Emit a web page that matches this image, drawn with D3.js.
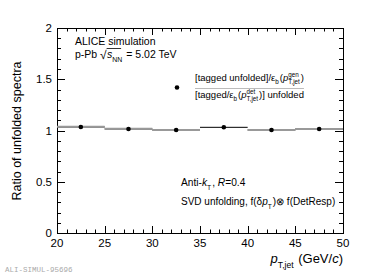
<!DOCTYPE html>
<html>
<head>
<meta charset="utf-8">
<script src="https://cdn.jsdelivr.net/npm/d3@7"></script>
<style>
  html, body { margin: 0; padding: 0; background: #fff; }
  svg { display: block; font-family: "Liberation Sans", Arial, sans-serif; }
  svg text { white-space: pre; }
</style>
</head>
<body>
<svg id="chart" width="382" height="275"></svg>
<script>
// bins in pT,jet (GeV/c)
var binEdges = [20, 25, 30, 35, 40, 45, 50];
// ratio per bin (black markers)
var ratioValues = [1.034, 1.015, 1.005, 1.031, 1.005, 1.015];
// grey histogram line per bin (not visible in the 35-40 bin)
var histValues = [1.037, 1.018, 1.005, null, 1.005, 1.015];
var xTicks = [20, 25, 30, 35, 40, 45, 50];
var yTicks = [0, 0.5, 1, 1.5, 2];

(function () {
    'use strict';

    var svg = d3.select('#chart');
    var pad = { left: 57, right: 343, top: 28, bottom: 233 };

    var x = d3.scaleLinear().domain([20, 50]).range([pad.left, pad.right]);
    var y = d3.scaleLinear().domain([0, 2]).range([pad.bottom, pad.top]);

    // ticks (ROOT style, inward, on all four sides)
    var ticks = svg.append('g').attr('stroke', '#000').attr('stroke-width', 1);
    d3.range(20, 50.001, 1).forEach(function (v) {
        var major = Math.round(v) % 5 === 0;
        var len = major ? 7 : 3.5;
        var px = Math.round(x(v)) + 0.5;
        ticks.append('line').attr('x1', px).attr('x2', px).attr('y1', pad.bottom).attr('y2', pad.bottom - len);
        ticks.append('line').attr('x1', px).attr('x2', px).attr('y1', pad.top).attr('y2', pad.top + len);
    });
    d3.range(0, 21, 1).forEach(function (k) {
        var v = k / 10;
        var len = k % 5 === 0 ? 8 : 4;
        var py = Math.round(y(v)) + 0.5;
        ticks.append('line').attr('x1', pad.left).attr('x2', pad.left + len).attr('y1', py).attr('y2', py);
        ticks.append('line').attr('x1', pad.right).attr('x2', pad.right - len).attr('y1', py).attr('y2', py);
    });

    // frame
    svg.append('rect')
        .attr('x', pad.left + 0.5).attr('y', pad.top + 0.5)
        .attr('width', pad.right - pad.left).attr('height', pad.bottom - pad.top)
        .attr('fill', 'none').attr('stroke', '#000').attr('stroke-width', 1);

    // tick labels
    svg.append('g').selectAll('text').data(xTicks).join('text')
        .attr('x', function (d) { return x(d); })
        .attr('y', 247)
        .attr('text-anchor', 'middle')
        .attr('font-size', 11.5)
        .text(function (d) { return d; });

    svg.append('g').selectAll('text').data(yTicks).join('text')
        .attr('x', 52)
        .attr('y', function (d) { return y(d) + 4; })
        .attr('text-anchor', 'end')
        .attr('font-size', 11.5)
        .text(function (d) { return d; });

    // y title
    svg.append('text')
        .attr('transform', 'translate(21,131) rotate(-90)')
        .attr('text-anchor', 'middle')
        .attr('font-size', 12.5)
        .text('Ratio of unfolded spectra');

    // rich text helper: parts laid out left to right, measured as we go
    function rich(g, x0, y0, parts, size, anchor) {
        var grp = g.append('g');
        var cx = 0;
        parts.forEach(function (p) {
            if (p.stack) {
                var a = grp.append('text').attr('x', cx).attr('y', -size * 0.45)
                    .attr('font-size', size * 0.66).text(p.stack[0]);
                var b = grp.append('text').attr('x', cx).attr('y', size * 0.35)
                    .attr('font-size', size * 0.66).text(p.stack[1]);
                cx += Math.max(a.node().getComputedTextLength(), b.node().getComputedTextLength()) + 1;
                return;
            }
            var t = grp.append('text').attr('x', cx)
                .attr('y', p.sub ? size * 0.35 : 0)
                .attr('font-size', p.sub ? size * 0.66 : size)
                .attr('font-style', p.it ? 'italic' : null)
                .text(p.t);
            cx += t.node().getComputedTextLength() + (p.sub ? 1 : 0);
        });
        var shift = anchor === 'end' ? -cx : 0;
        grp.attr('transform', 'translate(' + (x0 + shift) + ',' + y0 + ')');
        return cx;
    }

    rich(svg, 343, 263, [
        { t: 'p', it: true }, { sub: true, t: 'T,jet' }, { t: ' (GeV/' }, { t: 'c', it: true }, { t: ')' }
    ], 13, 'end');

    // labels in the plot
    svg.append('text').attr('x', 75).attr('y', 45).attr('font-size', 10.5).text('ALICE simulation');
    var w1 = rich(svg, 75, 58, [{ t: 'p-Pb ' }], 10.5);
    svg.append('text').attr('x', 75 + w1).attr('y', 59).attr('font-size', 12).text('\u221A');
    svg.append('line').attr('x1', 75 + w1 + 6.5).attr('x2', 75 + w1 + 21).attr('y1', 48.5).attr('y2', 48.5)
        .attr('stroke', '#000').attr('stroke-width', 0.8);
    rich(svg, 75 + w1 + 7, 58, [
        { t: 's', it: true }, { sub: true, t: 'NN' }, { t: ' = 5.02 TeV' }
    ], 10.5);

    rich(svg, 181, 186, [
        { t: 'Anti-' }, { t: 'k', it: true }, { sub: true, t: 'T' }, { t: ', ' }, { t: 'R', it: true }, { t: '=0.4' }
    ], 10.2);
    rich(svg, 181, 205, [
        { t: 'SVD unfolding, f(\u03B4' }, { t: 'p', it: true }, { sub: true, t: 'T' }, { t: ')\u2297 f(DetResp)' }
    ], 10);

    // legend: single marker with a fraction label
    svg.append('circle').attr('cx', 177).attr('cy', 87.5).attr('r', 2.3).attr('fill', '#000');
    var numW = rich(svg, 195, 81, [
        { t: '[tagged unfolded]/\u03B5' }, { sub: true, t: 'b' }, { t: '(' }, { t: 'p', it: true },
        { stack: ['gen', 'T,jet'] }, { t: ')' }
    ], 9.5);
    rich(svg, 195, 98, [
        { t: '[tagged/\u03B5' }, { sub: true, t: 'b' }, { t: '(' }, { t: 'p', it: true },
        { stack: ['det', 'T,jet'] }, { t: ')] unfolded' }
    ], 9.5);
    svg.append('line').attr('x1', 195).attr('x2', 195 + numW).attr('y1', 88.5).attr('y2', 88.5)
        .attr('stroke', '#bbb').attr('stroke-width', 1);

    // data: x error bars, grey histogram on top, markers
    var bins = ratioValues.map(function (v, i) {
        return { lo: binEdges[i], hi: binEdges[i + 1], v: v, h: histValues[i] };
    });
    svg.append('g').selectAll('line').data(bins).join('line')
        .attr('x1', function (d) { return x(d.lo); })
        .attr('x2', function (d) { return x(d.hi); })
        .attr('y1', function (d) { return y(d.v); })
        .attr('y2', function (d) { return y(d.v); })
        .attr('stroke', '#000').attr('stroke-width', 1);
    svg.append('g').selectAll('line').data(bins.filter(function (d) { return d.h !== null; })).join('line')
        .attr('x1', function (d) { return x(d.lo); })
        .attr('x2', function (d) { return x(d.hi); })
        .attr('y1', function (d) { return y(d.h); })
        .attr('y2', function (d) { return y(d.h); })
        .attr('stroke', '#999').attr('stroke-width', 2);
    svg.append('g').selectAll('circle').data(bins).join('circle')
        .attr('cx', function (d) { return x((d.lo + d.hi) / 2); })
        .attr('cy', function (d) { return y(d.v); })
        .attr('r', 2.3)
        .attr('fill', '#000');

    // figure id
    svg.append('text').attr('x', 5).attr('y', 272)
        .attr('font-family', '"Liberation Mono", "DejaVu Sans Mono", monospace')
        .attr('font-size', 7.5).attr('fill', '#aaa')
        .text('ALI-SIMUL-95696');
})();
</script>
</body>
</html>
